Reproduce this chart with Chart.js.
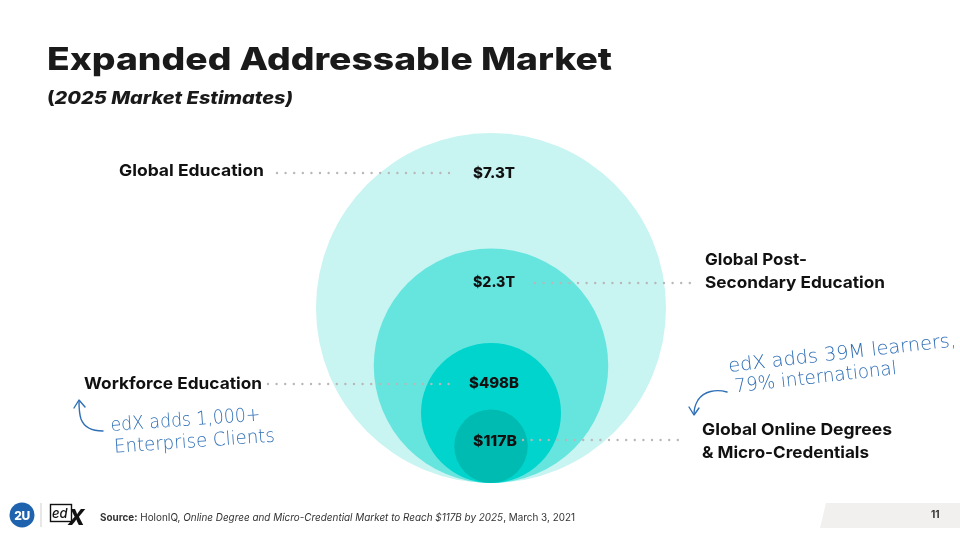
<!DOCTYPE html>
<html>
<head>
<meta charset="utf-8">
<script src="https://cdn.jsdelivr.net/npm/chart.js"></script>
<style>
  html, body { margin: 0; padding: 0; background: #fff; }
  #page { position: relative; width: 960px; height: 540px; overflow: hidden; font-family: Inter, "Noto Sans", sans-serif; }
  #chartBox { position: absolute; left: 281px; top: 98px; width: 420px; height: 385px; }
  #overlay { position: absolute; left: 0; top: 0; }
  .cat { font-size: 16.5px; font-weight: 700; fill: #111; }
  .val { font-size: 15px; font-weight: 800; fill: #111; }
  .dots { stroke: #b8b8b8; stroke-width: 2.4; stroke-linecap: round; stroke-dasharray: 0 8.6; fill: none; }
  .hand { font-family: "DejaVu Sans ExtraLight", "DejaVu Sans", sans-serif; font-weight: 200; font-size: 19px; fill: #2f6fb6; }
  .arrow { stroke: #2f6fb6; stroke-width: 1.4; fill: none; stroke-linecap: round; stroke-linejoin: round; }
</style>
</head>
<body>
<div id="page">
  <div id="chartBox"><canvas id="circles"></canvas></div>
  <svg id="overlay" width="960" height="540" xmlns="http://www.w3.org/2000/svg">
    <text x="47" y="69.5" font-size="31.5" font-weight="800" fill="#1a1a1a" textLength="565" lengthAdjust="spacingAndGlyphs">Expanded Addressable Market</text>
    <text x="47" y="104" font-size="17.5" font-weight="800" fill="#1a1a1a" textLength="246" lengthAdjust="spacingAndGlyphs">(<tspan font-style="italic">2025 Market Estimates)</tspan></text>
    <g id="labels"></g>

    <!-- handwritten notes -->
    <g transform="rotate(-6.5 729 372)">
      <text class="hand" x="729" y="372" textLength="229" lengthAdjust="spacingAndGlyphs">edX adds 39M learners,</text>
      <text class="hand" x="733" y="393" textLength="163" lengthAdjust="spacingAndGlyphs">79% international</text>
    </g>
    <path class="arrow" d="M727,392 C716,389 704,391 698,400 C695,405 694,410 694,414"/>
    <path class="arrow" d="M689,407 L694,415 L699,408"/>
    <g transform="rotate(-4 111 431)">
      <text class="hand" x="111" y="431" textLength="150" lengthAdjust="spacingAndGlyphs">edX adds 1,000+</text>
      <text class="hand" x="113" y="453" textLength="161" lengthAdjust="spacingAndGlyphs">Enterprise Clients</text>
    </g>
    <path class="arrow" d="M103,431 C92,431 84,427 81,419 C79,413 79,407 79,401"/>
    <path class="arrow" d="M74,408 L79,400 L85,407"/>

    <!-- footer -->
    <circle cx="22" cy="515" r="12.5" fill="#1f63ae"/>
    <text x="22" y="519.5" font-size="12" font-weight="800" fill="#fff" text-anchor="middle" letter-spacing="-0.5">2U</text>
    <line x1="41" y1="503" x2="41" y2="527" stroke="#cfcfcf" stroke-width="1"/>
    <rect x="50.5" y="504.5" width="21" height="17" fill="none" stroke="#111" stroke-width="1.4"/>
    <text x="52" y="518" font-size="13" font-style="italic" font-weight="500" fill="#111">ed</text>
    <text x="68" y="525" font-size="22" font-style="italic" font-weight="800" fill="#111">X</text>
    <text x="100" y="521" font-size="10.5" fill="#333" textLength="475" lengthAdjust="spacingAndGlyphs"><tspan font-weight="700">Source:</tspan> HolonIQ, <tspan font-style="italic">Online Degree and Micro-Credential Market to Reach $117B by 2025</tspan>, March 3, 2021</text>
    <polygon points="826,503 960,503 960,528 820,528" fill="#f1f0ee"/>
    <text x="931" y="518" font-size="10" font-weight="700" fill="#333">11</text>
  </svg>
</div>
<script>
// market segments, biggest first
const categories = ['Global Education', 'Global Post-Secondary Education', 'Workforce Education', 'Global Online Degrees & Micro-Credentials'];
const valueLabels = ['$7.3T', '$2.3T', '$498B', '$117B'];
// circle diameter relative to the biggest one
const relativeSize = [100, 67, 40, 21];

document.addEventListener('DOMContentLoaded', () => {
  const ctx = document.getElementById('circles');

  // every circle sits on the same bottom point, centre at half its size
  const points = relativeSize.map(s => ({ x: 0, y: s / 2, size: s }));

  new Chart(ctx, {
    type: 'scatter',
    data: {
      datasets: [{
        data: points,
        pointBackgroundColor: ['#c8f4f2', '#66e5df', '#00d4cc', '#00bbb2'],
        pointBorderWidth: 0,
        pointRadius: (c) => {
          if (!c.raw || !c.chart.scales.y) return 0;
          const y = c.chart.scales.y;
          return Math.abs(y.getPixelForValue(0) - y.getPixelForValue(c.raw.size / 2));
        }
      }]
    },
    options: {
      responsive: true,
      maintainAspectRatio: false,
      animation: false,
      events: [],
      layout: { padding: 0 },
      plugins: { legend: { display: false }, tooltip: { enabled: false } },
      scales: {
        x: { display: false, min: -60, max: 60 },
        y: { display: false, min: 0, max: 110 }
      }
    }
  });

  // ---- labels + leader dots ----
  const svgNS = 'http://www.w3.org/2000/svg';
  const labels = document.getElementById('labels');
  function addText(cls, x, y, str, w) {
    const t = document.createElementNS(svgNS, 'text');
    t.setAttribute('class', cls);
    t.setAttribute('x', x);
    t.setAttribute('y', y);
    t.setAttribute('textLength', w);
    t.setAttribute('lengthAdjust', 'spacingAndGlyphs');
    t.textContent = str;
    labels.appendChild(t);
  }
  function addDots(x1, x2, y) {
    const l = document.createElementNS(svgNS, 'line');
    l.setAttribute('class', 'dots');
    l.setAttribute('x1', x1); l.setAttribute('x2', x2);
    l.setAttribute('y1', y); l.setAttribute('y2', y);
    labels.appendChild(l);
  }

  addText('val', 473, 178, valueLabels[0], 42);
  addText('val', 473, 287, valueLabels[1], 42);
  addText('val', 469, 388, valueLabels[2], 50);
  addText('val', 473, 445.5, valueLabels[3], 44);

  addText('cat', 119, 176, categories[0], 145);
  addDots(277, 451, 173);

  addText('cat', 705, 265, 'Global Post-', 102);
  addText('cat', 705, 287.5, 'Secondary Education', 180);
  addDots(535, 690, 283);

  addText('cat', 84, 388.5, categories[2], 178);
  addDots(268, 450, 384);

  addText('cat', 702, 435, 'Global Online Degrees', 190);
  addText('cat', 702, 458, '& Micro-Credentials', 167);
  addDots(523, 680, 440);
});
</script>
</body>
</html>
